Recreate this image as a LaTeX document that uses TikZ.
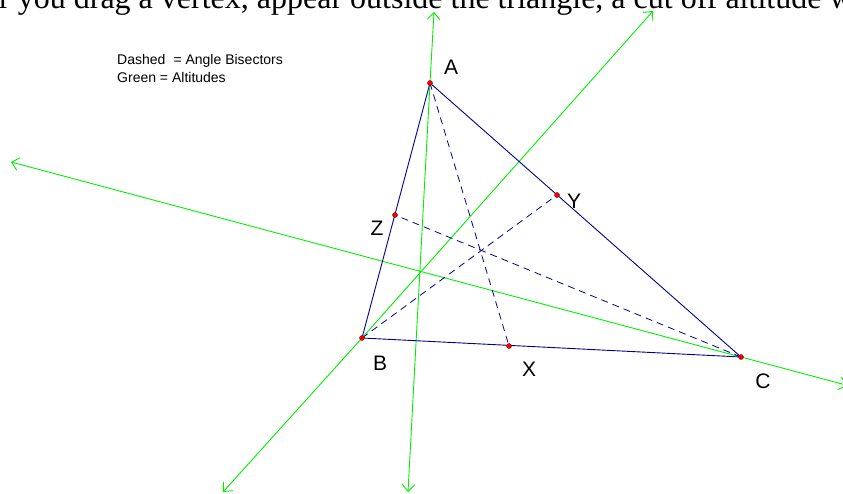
\documentclass[tikz,border=0pt]{standalone}
\usepackage{fontspec}
\setmainfont{Liberation Serif}
\newfontfamily\arialf{Liberation Sans}
\usetikzlibrary{arrows.meta}
\definecolor{altgreen}{RGB}{0,240,0}
\definecolor{trinavy}{RGB}{0,0,140}
\begin{document}
\begin{tikzpicture}[x=1pt,y=-1pt,
 altitude/.style={draw=altgreen,line width=0.9pt,{Straight Barb[length=7pt,width=13pt]}-{Straight Barb[length=7pt,width=13pt]}},
 side/.style={draw=trinavy,line width=0.9pt},
 bisector/.style={draw=trinavy,line width=0.8pt,dash pattern=on 7pt off 5pt},
 vtx/.style={circle,fill=red,draw=black!60!red,line width=0.4pt,inner sep=0pt,minimum size=5pt},
 lbl/.style={font=\arialf\fontsize{21}{21}\selectfont,inner sep=0pt},
 legend/.style={font=\arialf\fontsize{14}{17}\selectfont,inner sep=0pt,anchor=base west}]
\useasboundingbox (0,0) rectangle (843,493);
\clip (0,0) rectangle (843,493);
% top (cut-off) caption
\node[anchor=base west,inner sep=0pt,font=\fontsize{32}{32}\selectfont] (cap) at (-1,8.5) {r you drag a vertex, appear outside the triangle, a cut off altitude w};
% legend
\node[legend] (leg1) at (117,64) {Dashed\hspace{0.3em} = Angle Bisectors};
\node[legend] (leg2) at (117,82) {Green = Altitudes};
% points
\coordinate (A) at (430,83);
\coordinate (B) at (362,338);
\coordinate (C) at (741,357);
\coordinate (X) at (509,346);
\coordinate (Y) at (557,195);
\coordinate (Z) at (395,215);
% altitude ends
\coordinate (a1s) at (434,12);
\coordinate (a1e) at (408,492);
\coordinate (a2s) at (653,11);
\coordinate (a2e) at (223,492);
\coordinate (a3s) at (11,162);
\coordinate (a3e) at (847,385.3);
% altitudes
\draw[altitude] (a1s) -- (A) -- (a1e);
\draw[altitude] (a2s) -- (B) -- (a2e);
\draw[altitude] (a3s) -- (C) -- (a3e);
% triangle
\draw[side] (A) -- (B) -- (C) -- cycle;
% bisectors
\draw[bisector] (A) -- (X);
\draw[bisector] (B) -- (Y);
\draw[bisector] (C) -- (Z);
% vertex dots
\foreach \p in {A,B,C,X,Y,Z} \node[vtx] (d\p) at (\p) {};
% labels
\node[lbl] (lA) at (451,67) {A};
\node[lbl] (lZ) at (377,228) {Z};
\node[lbl] (lY) at (574,201) {Y};
\node[lbl] (lB) at (380,363) {B};
\node[lbl] (lX) at (529,369) {X};
\node[lbl] (lC) at (763,381) {C};
\end{tikzpicture}
\end{document}
